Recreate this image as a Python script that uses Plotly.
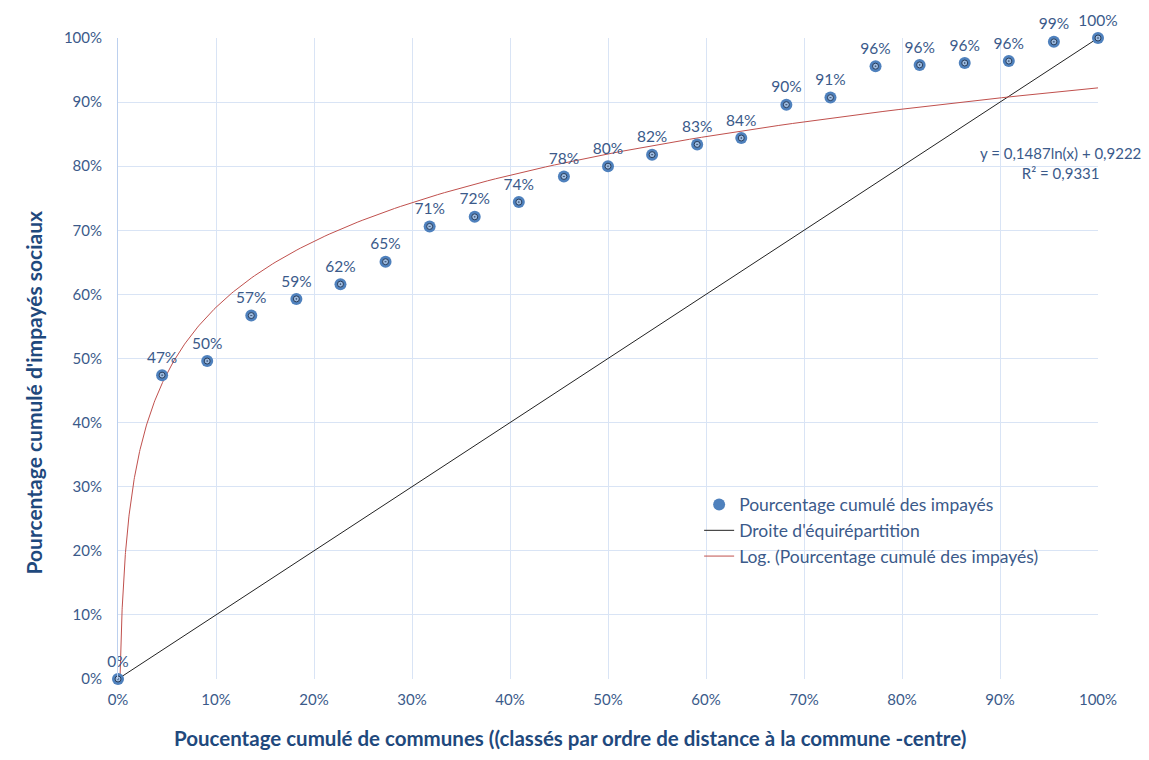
import numpy as np
import plotly.graph_objects as go

# part cumulée des communes (22 communes + origine)
communes_cum = [0, 0.045, 0.091, 0.136, 0.182, 0.227, 0.273, 0.318, 0.364, 0.409, 0.455, 0.5,
                0.545, 0.591, 0.636, 0.682, 0.727, 0.773, 0.818, 0.864, 0.909, 0.955, 1.0]
# part cumulée des impayés
impayes_cum = [0, 0.474, 0.496, 0.567, 0.593, 0.616, 0.651, 0.706, 0.721, 0.744, 0.784, 0.80,
               0.818, 0.834, 0.844, 0.896, 0.907, 0.956, 0.958, 0.961, 0.964, 0.994, 1.0]
equi = [0, 1]

# tendance log (coefficients affichés sur le graphique)
a, b = 0.1487, 0.9222
x0 = np.exp(-b / a)
xt = np.geomspace(x0, 1, 300)
yt = a * np.log(xt) + b

bleu = "#4F81BD"
txt = "#3B5A8A"
titre = "#1F497D"
font = "Lato, 'Open Sans', sans-serif"

# la page a une marge de 8px : on réduit la figure pour rester dans la fenêtre
W, H = 1141, 752
L, R, T, B = 110, 51, 30, 81

fig = go.Figure()
fig.add_trace(go.Scatter(
    x=equi, y=equi, mode="lines", name="Droite d'équirépartition", legendrank=2,
    line=dict(color="#222222", width=1), cliponaxis=False,
))
fig.add_trace(go.Scatter(
    x=xt, y=yt, mode="lines", name="Log. (Pourcentage cumulé des impayés)", legendrank=3,
    line=dict(color="#C0504D", width=1),
))
fig.add_trace(go.Scatter(
    x=communes_cum, y=impayes_cum, mode="markers+text",
    name="Pourcentage cumulé des impayés", legendrank=1,
    marker=dict(color=bleu, size=12, line=dict(width=0)),
    texttemplate="%{y:.0%}", textposition="top center",
    textfont=dict(size=15.5, color=txt), cliponaxis=False,
))
fig.add_trace(go.Scatter(
    x=communes_cum, y=impayes_cum, mode="markers", showlegend=False, hoverinfo="skip",
    marker=dict(color="#9DBBE0", size=6, symbol="circle-dot",
                line=dict(color="#2b3f5c", width=1)),
    cliponaxis=False,
))

fig.add_annotation(x=0.962, y=0.805, xref="x", yref="y", showarrow=False,
                   text="y = 0,1487ln(x) + 0,9222<br>R² = 0,9331",
                   font=dict(size=15, color=txt, family=font), align="center")
# titres des axes (positions en pixels de la figure)
fig.add_annotation(x=562, y=744, xref="paper", yref="paper", showarrow=False,
                   text="<b>Poucentage cumulé de communes ((classés par ordre de distance à la commune -centre)</b>",
                   font=dict(size=20.5, color=titre, family=font))
fig.add_annotation(x=10, y=385, xref="paper", yref="paper", showarrow=False, textangle=-90,
                   text="<b>Pourcentage cumulé d'impayés sociaux</b>",
                   font=dict(size=21, color=titre, family=font))
pw, ph = W - L - R, H - T - B
for ann in fig.layout.annotations[1:]:
    ann.x = (ann.x - L) / pw
    ann.y = (H - B - ann.y) / ph

grid = "#D9E4F5"
fig.update_xaxes(range=[0, 1], tickformat=".0%", dtick=0.1, showgrid=True, gridcolor=grid,
                 zeroline=False, showline=False, ticks="", automargin=False,
                 ticklabelstandoff=10, tickfont=dict(size=15, color=txt))
fig.update_yaxes(range=[0, 1], tickformat=".0%", dtick=0.1, showgrid=True, gridcolor=grid,
                 zeroline=False, showline=True, linecolor="#BCD0EE", ticks="", automargin=False,
                 ticklabelstandoff=12, tickfont=dict(size=15, color=txt))
fig.update_layout(
    width=W, height=H, template="simple_white",
    plot_bgcolor="white", paper_bgcolor="white",
    font=dict(family=font, color=txt),
    margin=dict(l=L, r=R, t=T, b=B, autoexpand=False),
    legend=dict(x=0.593, y=0.30, xanchor="left", yanchor="top", bgcolor="rgba(0,0,0,0)",
                font=dict(size=17.5, color=txt), tracegroupgap=0, itemwidth=30),
)
fig.write_html("out.html")
